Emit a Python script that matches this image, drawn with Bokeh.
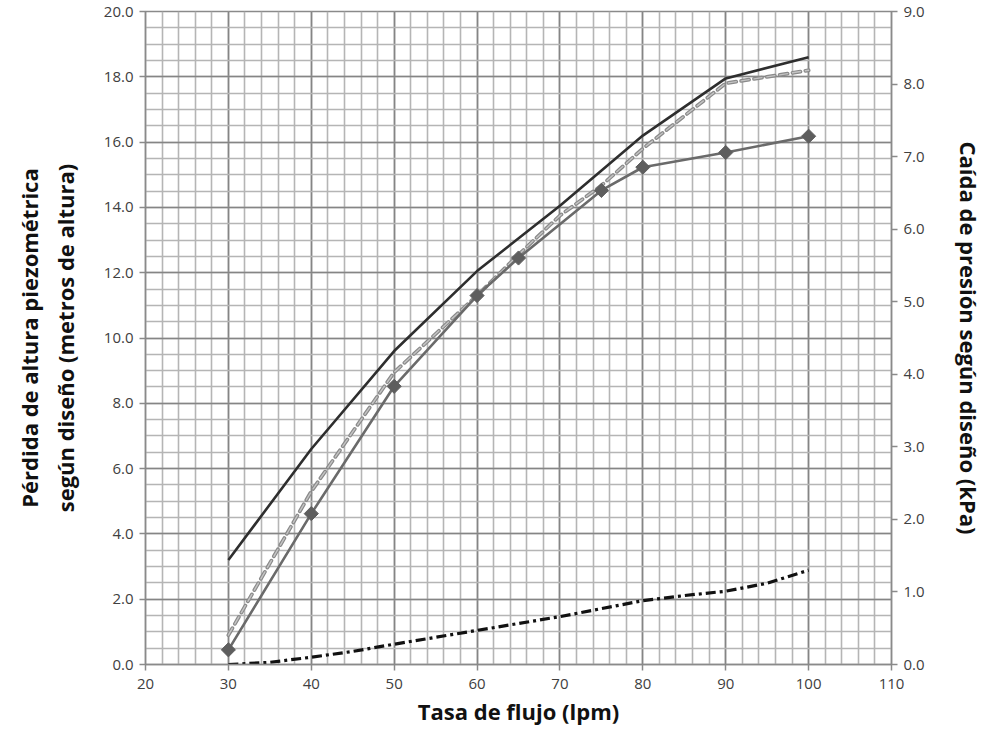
from bokeh.plotting import figure
from bokeh.models import Range1d, LinearAxis, SingleIntervalTicker, NumeralTickFormatter
from bokeh.embed import file_html
from bokeh.resources import INLINE

# Flow rate (lpm)
flow_dark = [30, 40, 50, 60, 70, 80, 90, 100]
head_dark = [3.2, 6.6, 9.6, 12.05, 14.05, 16.2, 17.95, 18.6]

flow_marked = [30, 40, 50, 60, 65, 75, 80, 90, 100]
head_marked = [0.45, 4.62, 8.52, 11.3, 12.45, 14.52, 15.23, 15.68, 16.18]

flow_dashed = [30, 40, 50, 60, 65, 70, 75, 80, 90, 100]
head_dashed = [0.9, 5.3, 8.95, 11.3, 12.55, 13.75, 14.67, 15.8, 17.8, 18.2]

flow_kpa = [30, 35, 40, 45, 50, 60, 70, 80, 85, 90, 95, 100]
drop_kpa = [0.0, 0.03, 0.1, 0.18, 0.28, 0.47, 0.66, 0.88, 0.95, 1.01, 1.12, 1.30]

x_title = "Tasa de flujo (lpm)"
left_title = "Pérdida de altura piezométrica\nsegún diseño (metros de altura)"
right_title = "Caída de presión según diseño (kPa)"

p = figure(width=998, height=728, output_backend="svg", toolbar_location=None,
           x_range=Range1d(20, 110), y_range=Range1d(0, 20),
           min_border_left=145, min_border_right=107, min_border_top=11, min_border_bottom=64)
p.extra_y_ranges = {"kpa": Range1d(0, 9)}

p.outline_line_color = "#8a8a8a"
p.outline_line_width = 1.5

p.xaxis.ticker = SingleIntervalTicker(interval=10, num_minor_ticks=5)
p.yaxis.ticker = SingleIntervalTicker(interval=2, num_minor_ticks=4)
p.yaxis.formatter = NumeralTickFormatter(format="0.0")

for g in (p.xgrid[0], p.ygrid[0]):
    g.grid_line_color = "#858585"
    g.grid_line_width = 1.6
    g.minor_grid_line_color = "#b5b5b5"
    g.minor_grid_line_width = 1.6
    g.level = "underlay"

right = LinearAxis(y_range_name="kpa", ticker=SingleIntervalTicker(interval=1),
                   formatter=NumeralTickFormatter(format="0.0"))
p.add_layout(right, "right")

for ax in (p.xaxis[0], p.yaxis[0], right):
    ax.axis_line_color = "#8a8a8a"
    ax.axis_line_width = 1.5
    ax.major_tick_line_color = "#8a8a8a"
    ax.major_tick_line_width = 1.5
    ax.major_tick_in = 0
    ax.major_tick_out = 6
    ax.minor_tick_line_color = None
    ax.major_label_text_font = "Open Sans"
    ax.major_label_text_font_size = "15px"
    ax.major_label_text_color = "#404040"
    ax.axis_label_text_font = "Open Sans"
    ax.axis_label_text_font_style = "bold"
    ax.axis_label_text_font_size = "22px"
    ax.axis_label_text_color = "#111111"

p.xaxis.axis_label = x_title
p.xaxis.axis_label_standoff = 4
p.xaxis.major_label_standoff = 8
p.yaxis.axis_label = left_title
p.yaxis.axis_label_standoff = 21
p.yaxis.major_label_standoff = 6
right.axis_label = right_title
right.axis_label_standoff = 26
right.major_label_standoff = 6

p.line(flow_dark, head_dark, line_color="#2e2e2e", line_width=2.6)

p.line(flow_dashed, head_dashed, line_color="#8a8a8a", line_width=3.8, line_dash="8 5",
       line_cap="round")
p.line(flow_dashed, head_dashed, line_color="#c4c4c4", line_width=1.4, line_dash="8 5",
       line_cap="round")

p.line(flow_marked, head_marked, line_color="#6a6a6a", line_width=2.6)
p.scatter(flow_marked, head_marked, marker="square", angle=0.785398, size=10,
          fill_color="#5e5e5e", line_color="#5e5e5e")

p.line(flow_kpa, drop_kpa, y_range_name="kpa", line_color="#111111", line_width=3.2,
       line_dash="10 4 3 4")

open("out.html", "w").write(file_html(p, INLINE))
